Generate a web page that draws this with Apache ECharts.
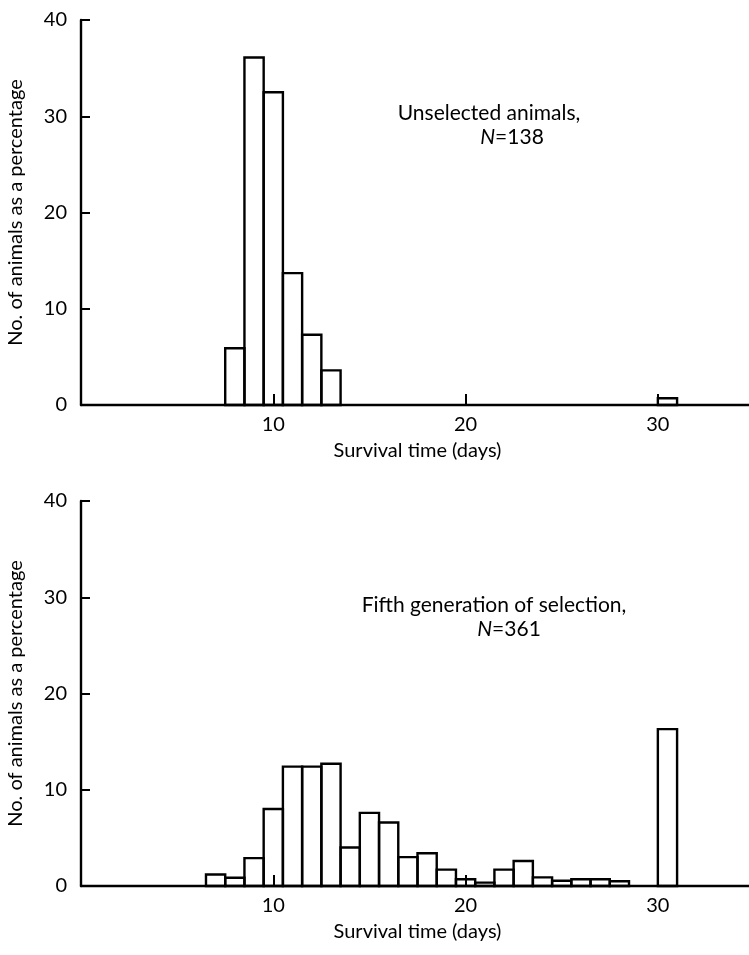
<!DOCTYPE html>
<html>
<head>
<meta charset="utf-8">
<script src="https://cdn.jsdelivr.net/npm/echarts@6/dist/echarts.min.js"></script>
<style>
html,body{margin:0;padding:0;background:#fff;}
#chart{width:749px;height:955px;}
</style>
</head>
<body>
<div id="chart"></div>
<script>
// bins are one day wide, given by their left edge (days)
var topBinStart    = [7.5, 8.5, 9.5, 10.5, 11.5, 12.5, 30];
var topPercent     = [5.9, 36.1, 32.5, 13.7, 7.3, 3.6, 0.7];
var bottomBinStart = [6.5, 7.5, 8.5, 9.5, 10.5, 11.5, 12.5, 13.5, 14.5, 15.5, 16.5, 17.5,
                      18.5, 19.5, 20.5, 21.5, 22.5, 23.5, 24.5, 25.5, 26.5, 27.5, 30];
var bottomPercent  = [1.2, 0.85, 2.9, 8.0, 12.4, 12.4, 12.7, 4.0, 7.6, 6.6, 3.0, 3.4,
                      1.7, 0.7, 0.35, 1.7, 2.6, 0.9, 0.55, 0.7, 0.7, 0.5, 16.3];
var xTickValues = [10, 20, 30];
var yTickValues = [0, 10, 20, 30, 40];
var binWidth = 1;

var FONT = 'Lato';

function pairs(xs, ys){
    var out = [];
    for(var i=0;i<xs.length;i++){
        out.push([xs[i], ys[i]]);
    }
    return out;
}

function histItem(params, api){
    var x0 = api.value(0);
    var v  = api.value(1);
    var p0 = api.coord([x0, v]);
    var p1 = api.coord([x0 + binWidth, 0]);
    return {
        type: 'rect',
        shape: {x: p0[0], y: p0[1], width: p1[0] - p0[0], height: p1[1] - p0[1]},
        style: {fill: null, stroke: '#000', lineWidth: 2.4}
    };
}

function xAxisOf(idx){
    return {
        gridIndex: idx, type: 'value', min: 0, max: 35,
        axisLine: {lineStyle: {color: '#000', width: 2.4}},
        axisTick: {inside: true, length: 11, customValues: xTickValues, lineStyle: {color: '#000', width: 2}},
        axisLabel: {customValues: xTickValues, color: '#000', fontSize: 20, fontFamily: FONT, margin: 10},
        splitLine: {show: false},
        name: 'Survival time (days)', nameLocation: 'middle', nameGap: 36,
        nameTextStyle: {color: '#000', fontSize: 20, fontFamily: FONT}
    };
}

function yAxisOf(idx){
    return {
        gridIndex: idx, type: 'value', min: 0, max: 40, interval: 10,
        axisLine: {show: true, lineStyle: {color: '#000', width: 2.4}},
        axisTick: {show: true, inside: true, length: 9, lineStyle: {color: '#000', width: 2}},
        axisLabel: {customValues: yTickValues, color: '#000', fontSize: 20, fontFamily: FONT, margin: 14},
        splitLine: {show: false},
        name: 'No. of animals as a percentage', nameLocation: 'middle', nameGap: 55,
        nameTextStyle: {color: '#000', fontSize: 20, fontFamily: FONT}
    };
}

function label(text, x, y){
    return {
        text: text, left: x, top: y, textAlign: 'center',
        textStyle: {
            color: '#000', fontSize: 21, fontWeight: 'normal', fontFamily: FONT,
            rich: {i: {fontStyle: 'italic', fontSize: 21, fontFamily: FONT, color: '#000'}}
        },
        padding: 0
    };
}

var chart = echarts.init(document.getElementById('chart'));
var option = {
    backgroundColor: '#fff',
    animation: false,
    title: [
        label('Unselected animals,', 489, 103),
        label('{i|N}=138', 512, 127),
        label('Fifth generation of selection,', 494, 595),
        label('{i|N}=361', 509, 619)
    ],
    grid: [
        {left: 81, top: 20, width: 673, height: 385, outerBoundsMode: 'none'},
        {left: 81, top: 501, width: 673, height: 385, outerBoundsMode: 'none'}
    ],
    xAxis: [xAxisOf(0), xAxisOf(1)],
    yAxis: [yAxisOf(0), yAxisOf(1)],
    series: [
        {type: 'custom', xAxisIndex: 0, yAxisIndex: 0, renderItem: histItem, data: pairs(topBinStart, topPercent)},
        {type: 'custom', xAxisIndex: 1, yAxisIndex: 1, renderItem: histItem, data: pairs(bottomBinStart, bottomPercent)}
    ]
};
chart.setOption(option);
</script>
</body>
</html>
